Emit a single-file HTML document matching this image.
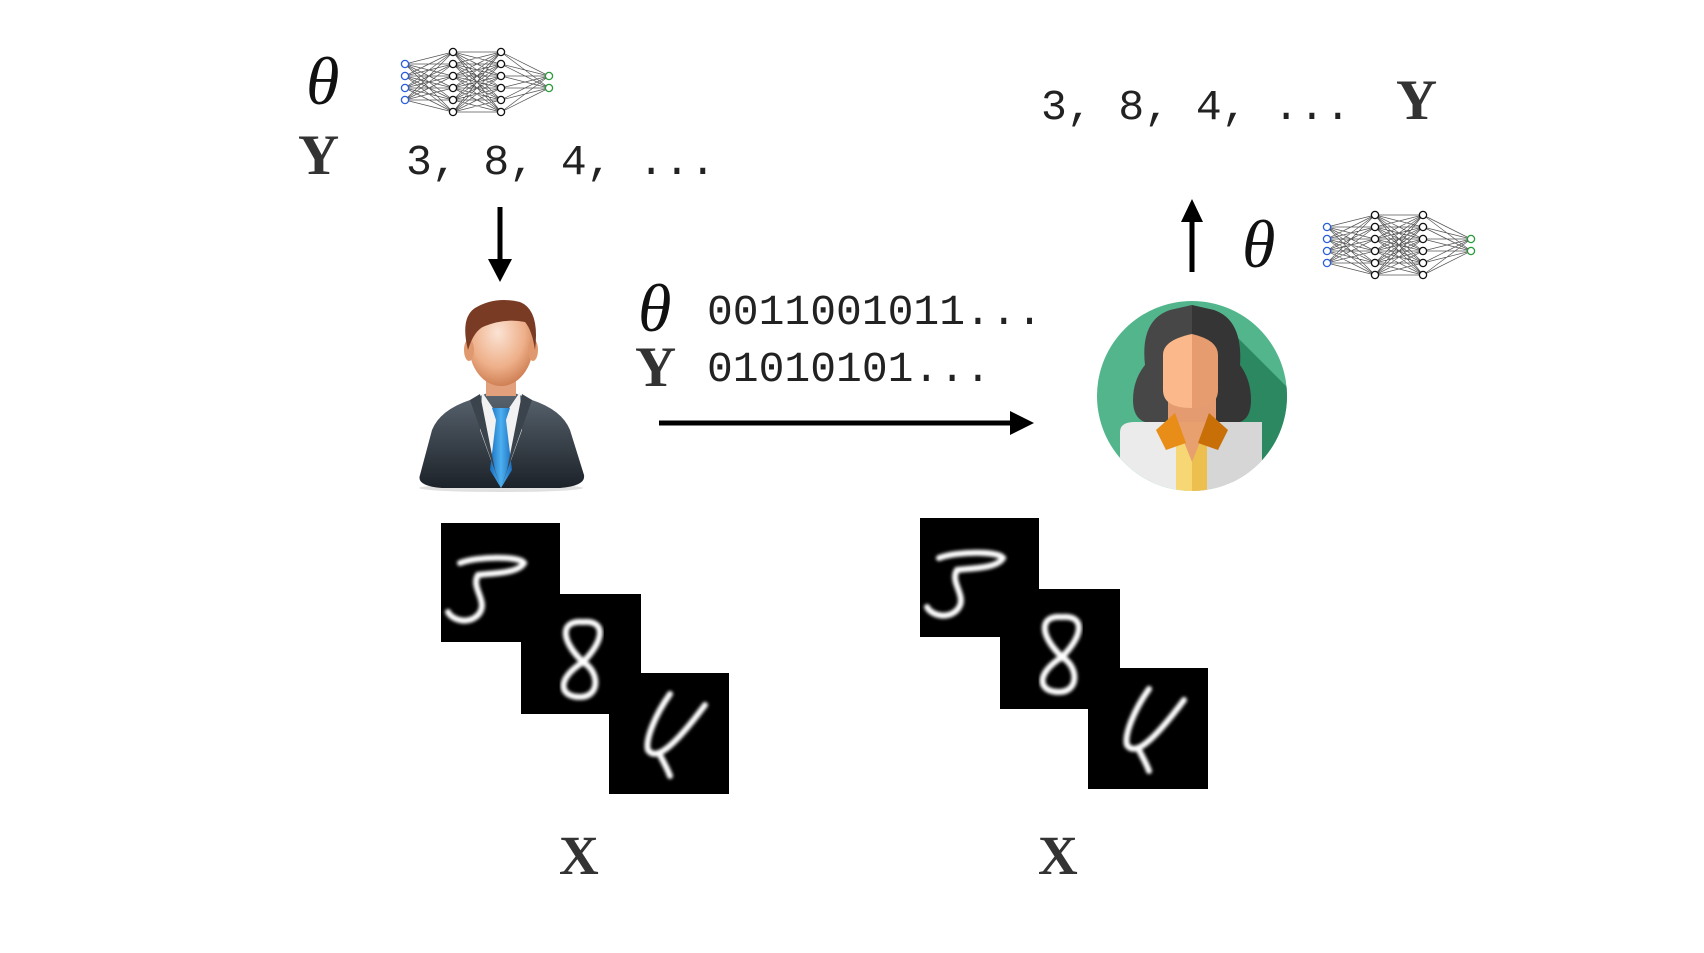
<!DOCTYPE html>
<html><head><meta charset="utf-8"><style>
html,body{margin:0;padding:0;background:#fff;}
svg{display:block}
.mono{font-family:"Liberation Mono",monospace;font-size:43px;fill:#222}
.bold{font-family:"Liberation Serif",serif;font-weight:bold;fill:#333}
.th{font-family:"Liberation Serif",serif;font-style:italic;font-size:68px;fill:#111}
</style></head><body>
<svg width="1704" height="953" viewBox="0 0 1704 953" xmlns="http://www.w3.org/2000/svg">
<defs>
<g id="nn">
<g stroke="#555" stroke-width="0.7" fill="none">
<path d="M4 16L52 4L4 16L52 16L4 16L52 28L4 16L52 40L4 16L52 52L4 16L52 64M4 28L52 4L4 28L52 16L4 28L52 28L4 28L52 40L4 28L52 52L4 28L52 64M4 40L52 4L4 40L52 16L4 40L52 28L4 40L52 40L4 40L52 52L4 40L52 64M4 52L52 4L4 52L52 16L4 52L52 28L4 52L52 40L4 52L52 52L4 52L52 64"/>
<path d="M52 4L100 4L52 4L100 16L52 4L100 28L52 4L100 40L52 4L100 52L52 4L100 64M52 16L100 4L52 16L100 16L52 16L100 28L52 16L100 40L52 16L100 52L52 16L100 64M52 28L100 4L52 28L100 16L52 28L100 28L52 28L100 40L52 28L100 52L52 28L100 64M52 40L100 4L52 40L100 16L52 40L100 28L52 40L100 40L52 40L100 52L52 40L100 64M52 52L100 4L52 52L100 16L52 52L100 28L52 52L100 40L52 52L100 52L52 52L100 64M52 64L100 4L52 64L100 16L52 64L100 28L52 64L100 40L52 64L100 52L52 64L100 64"/>
<path d="M100 4L148 28L100 4L148 40M100 16L148 28L100 16L148 40M100 28L148 28L100 28L148 40M100 40L148 28L100 40L148 40M100 52L148 28L100 52L148 40M100 64L148 28L100 64L148 40"/>
</g>
<g fill="#fff" stroke-width="1.3">
<g stroke="#2b5fd9"><circle cx="4" cy="16" r="3.6"/><circle cx="4" cy="28" r="3.6"/><circle cx="4" cy="40" r="3.6"/><circle cx="4" cy="52" r="3.6"/></g>
<g stroke="#111"><circle cx="52" cy="4" r="3.6"/><circle cx="52" cy="16" r="3.6"/><circle cx="52" cy="28" r="3.6"/><circle cx="52" cy="40" r="3.6"/><circle cx="52" cy="52" r="3.6"/><circle cx="52" cy="64" r="3.6"/>
<circle cx="100" cy="4" r="3.6"/><circle cx="100" cy="16" r="3.6"/><circle cx="100" cy="28" r="3.6"/><circle cx="100" cy="40" r="3.6"/><circle cx="100" cy="52" r="3.6"/><circle cx="100" cy="64" r="3.6"/></g>
<g stroke="#2a9a3a"><circle cx="148" cy="28" r="3.6"/><circle cx="148" cy="40" r="3.6"/></g>
</g>
</g>
<filter id="bl"><feGaussianBlur stdDeviation="1.6"/></filter>
<linearGradient id="suit" x1="0" y1="0" x2="0" y2="1"><stop offset="0" stop-color="#5a6570"/><stop offset="1" stop-color="#1c2229"/></linearGradient>
<radialGradient id="face" cx="0.45" cy="0.35" r="0.7"><stop offset="0" stop-color="#fbe3d4"/><stop offset="0.6" stop-color="#eeb08a"/><stop offset="1" stop-color="#c9764a"/></radialGradient>
<linearGradient id="tie" x1="0" y1="0" x2="1" y2="0"><stop offset="0" stop-color="#1a6fc0"/><stop offset="0.5" stop-color="#4db0ef"/><stop offset="1" stop-color="#1a6fc0"/></linearGradient>
<clipPath id="wc"><circle cx="1192" cy="396" r="95"/></clipPath>
</defs>

<text class="th" x="306" y="104">θ</text>
<use href="#nn" x="401" y="48"/>
<text class="bold" x="298" y="174" font-size="57">Y</text>
<text class="mono" x="406" y="174">3, 8, 4, ...</text>

<line x1="500" y1="207" x2="500" y2="262" stroke="#000" stroke-width="5"/>
<polygon points="488,259 512,259 500,282" fill="#000"/>

<g>
<ellipse cx="501" cy="488" rx="82" ry="4" fill="#ccc" opacity="0.6"/>
<path d="M420,475 L432,430 Q440,410 470,400 L490,392 L512,392 L532,400 Q562,410 570,430 L584,475 Q586,486 560,488 L442,488 Q416,486 420,475 Z" fill="url(#suit)"/>
<path d="M482,392 L501,420 L520,392 L522,430 L501,488 L480,430 Z" fill="#f2f2f2"/>
<path d="M492,408 L510,408 L506,420 L512,470 L501,488 L490,470 L496,420 Z" fill="url(#tie)"/>
<path d="M480,394 L495,470 L501,488 L470,400 Z" fill="#3b444d"/>
<path d="M522,394 L507,470 L501,488 L532,400 Z" fill="#3b444d"/>
<rect x="486" y="372" width="30" height="24" fill="#e3a07c"/>
<ellipse cx="501" cy="345" rx="32" ry="41" fill="url(#face)"/>
<ellipse cx="469" cy="350" rx="5" ry="11" fill="#e0996f"/>
<ellipse cx="533" cy="350" rx="5" ry="11" fill="#e0996f"/>
<path d="M468,350 Q460,318 475,308 Q495,296 520,302 Q540,310 535,350 Q532,330 525,322 Q505,318 485,326 Q474,330 468,350 Z" fill="#7a3b24"/>
</g>

<text class="th" x="638" y="331">θ</text>
<text class="bold" x="635" y="386" font-size="57">Y</text>
<text class="mono" x="707" y="324" font-size="42">0011001011...</text>
<text class="mono" x="707" y="381" font-size="42">01010101...</text>
<line x1="659" y1="423" x2="1014" y2="423" stroke="#000" stroke-width="5"/>
<polygon points="1010,411 1010,435 1034,423" fill="#000"/>

<circle cx="1192" cy="396" r="95" fill="#52b58c"/>
<g clip-path="url(#wc)">
<polygon points="1230,330 1300,400 1300,500 1240,500 1200,420" fill="#2c8860"/>
<path d="M1133,400 Q1133,380 1145,365 Q1140,320 1170,310 L1192,305 L1192,422 L1145,422 Q1133,418 1133,400 Z" fill="#474747"/>
<path d="M1251,400 Q1251,380 1240,365 Q1243,320 1214,310 L1192,305 L1192,422 L1240,422 Q1251,418 1251,400 Z" fill="#353535"/>
<rect x="1168" y="380" width="48" height="45" fill="#e39b6f"/>
<path d="M1163,355 Q1163,340 1192,334 L1192,408 Q1163,408 1163,390 Z" fill="#fbb98b"/>
<path d="M1218,355 Q1218,340 1192,334 L1192,408 Q1218,408 1218,390 Z" fill="#e69c6e"/>
<path d="M1120,432 Q1120,422 1135,422 L1250,422 Q1262,422 1262,432 L1262,500 L1120,500 Z" fill="#ebebeb"/>
<rect x="1192" y="422" width="70" height="80" fill="#d6d6d6"/>
<rect x="1176" y="440" width="16" height="60" fill="#f7d774"/>
<rect x="1192" y="440" width="15" height="60" fill="#ecbf4f"/>
<polygon points="1176,422 1208,422 1192,462" fill="#e8a06f"/>
<polygon points="1156,430 1175,413 1186,443 1166,450" fill="#e88d17"/>
<polygon points="1228,430 1209,413 1198,443 1218,450" fill="#c96f08"/>
</g>

<line x1="1192" y1="222" x2="1192" y2="272" stroke="#000" stroke-width="5"/>
<polygon points="1181,222 1203,222 1192,199" fill="#000"/>
<text class="th" x="1242" y="267">θ</text>
<use href="#nn" x="1323" y="211"/>
<text class="mono" x="1041" y="119">3, 8, 4, ...</text>
<text class="bold" x="1396" y="119" font-size="57">Y</text>

<g id="digs">
<rect x="441" y="523" width="119" height="119" fill="#000"/>
<path d="M460,563 C478,556 520,556 524,563 C518,574 490,573 478,575 C470,588 490,602 478,615 C468,625 452,620 448,612" stroke="#fff" stroke-width="6" fill="none" stroke-linecap="round" filter="url(#bl)"/>
<rect x="521" y="594" width="120" height="120" fill="#000"/>
<path d="M583,622 C606,620 605,640 583,662 C560,640 560,620 583,622 Z M583,662 C600,672 600,697 580,697 C560,697 555,680 583,662 Z" stroke="#fff" stroke-width="6" fill="none" filter="url(#bl)"/>
<rect x="609" y="673" width="120" height="121" fill="#000"/>
<path d="M670,694 C655,715 645,740 648,750 C655,760 670,752 705,705 M660,755 C665,765 668,770 670,776" stroke="#fff" stroke-width="6" fill="none" stroke-linecap="round" filter="url(#bl)"/>
</g>
<use href="#digs" x="479" y="-5"/>

<text class="bold" x="559" y="874" font-size="55">X</text>
<text class="bold" x="1038" y="874" font-size="55">X</text>
</svg>
</body></html>
